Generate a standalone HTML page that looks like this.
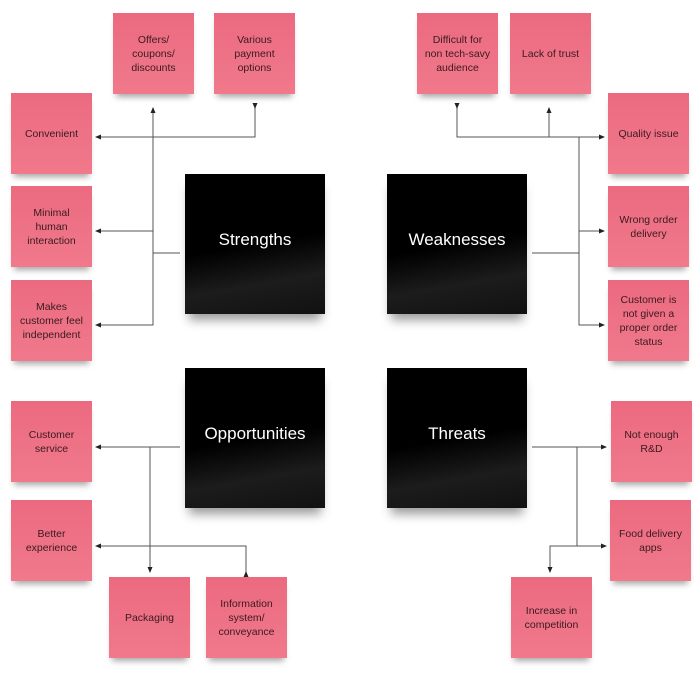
<!DOCTYPE html>
<html><head><meta charset="utf-8">
<style>
body{margin:0;width:700px;height:691px;background:#fff;position:relative;overflow:hidden;font-family:"Liberation Sans",sans-serif}
.p{position:absolute;width:81px;height:81px;background:linear-gradient(#ec6a80,#f0798b);box-shadow:0 6px 6px -3px rgba(0,0,0,.35);display:flex;align-items:center;justify-content:center;text-align:center;font-size:10.5px;line-height:14px;color:#3a1a1f}
.b{position:absolute;width:140px;height:140px;background:linear-gradient(170deg,#000 50%,#1c1c1c 75%,#111);box-shadow:0 10px 10px -4px rgba(0,0,0,.4);color:#fff;font-size:17px;text-align:center}
.b span{position:absolute;left:0;right:0;top:56px}
svg{position:absolute;left:0;top:0}
</style></head><body>
<svg width="700" height="691" viewBox="0 0 700 691">
<defs><marker id="a" markerWidth="6" markerHeight="6" refX="5" refY="3" orient="auto"><path d="M0,0.5 L6,3 L0,5.5z" fill="#222"/></marker></defs>
<g stroke="#555" stroke-width="1" fill="none">
<path d="M180,253 H153 V325 H96" marker-end="url(#a)"/>
<path d="M153,231 H96" marker-end="url(#a)"/>
<path d="M153,253 V108" marker-end="url(#a)"/>
<path d="M255,108 V137 H96" marker-start="url(#a)" marker-end="url(#a)"/>
<path d="M532,253 H579 V325 H604" marker-end="url(#a)"/>
<path d="M579,231 H604" marker-end="url(#a)"/>
<path d="M579,253 V137 H604" marker-end="url(#a)"/>
<path d="M457,108 V137 H579"  marker-start="url(#a)"/>
<path d="M549,137 V108" marker-end="url(#a)"/>
<path d="M180,447 H96" marker-end="url(#a)"/>
<path d="M150,447 V572" marker-end="url(#a)"/>
<path d="M246,572 V546 H96" marker-start="url(#a)" marker-end="url(#a)"/>
<path d="M532,447 H606" marker-end="url(#a)"/>
<path d="M577,447 V546 H606" marker-end="url(#a)"/>
<path d="M577,546 H550 V572" marker-end="url(#a)"/>
</g></svg>
<div class="p" style="left:113px;top:13px">Offers/<br>coupons/<br>discounts</div>
<div class="p" style="left:214px;top:13px">Various<br>payment<br>options</div>
<div class="p" style="left:11px;top:93px">Convenient</div>
<div class="p" style="left:11px;top:186px">Minimal<br>human<br>interaction</div>
<div class="p" style="left:11px;top:280px">Makes<br>customer feel<br>independent</div>
<div class="p" style="left:417px;top:13px">Difficult for<br>non tech-savy<br>audience</div>
<div class="p" style="left:510px;top:13px">Lack of trust</div>
<div class="p" style="left:608px;top:93px">Quality issue</div>
<div class="p" style="left:608px;top:186px">Wrong order<br>delivery</div>
<div class="p" style="left:608px;top:280px">Customer is<br>not given a<br>proper order<br>status</div>
<div class="p" style="left:11px;top:401px">Customer<br>service</div>
<div class="p" style="left:11px;top:500px">Better<br>experience</div>
<div class="p" style="left:109px;top:577px">Packaging</div>
<div class="p" style="left:206px;top:577px">Information<br>system/<br>conveyance</div>
<div class="p" style="left:611px;top:401px">Not enough<br>R&amp;D</div>
<div class="p" style="left:610px;top:500px">Food delivery<br>apps</div>
<div class="p" style="left:511px;top:577px">Increase in<br>competition</div>
<div class="b" style="left:185px;top:174px"><span>Strengths</span></div>
<div class="b" style="left:387px;top:174px"><span>Weaknesses</span></div>
<div class="b" style="left:185px;top:368px"><span>Opportunities</span></div>
<div class="b" style="left:387px;top:368px"><span>Threats</span></div>
</body></html>
